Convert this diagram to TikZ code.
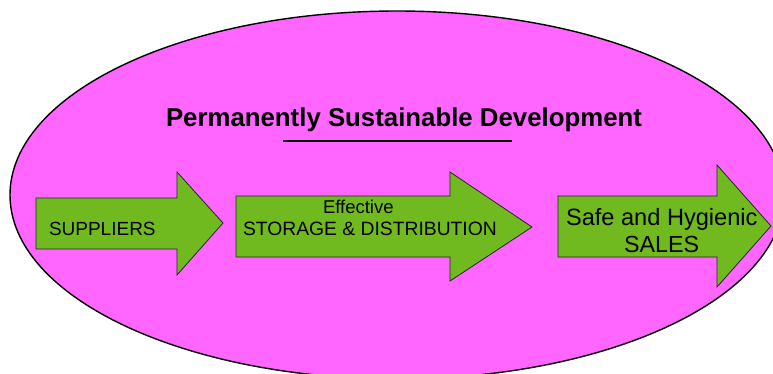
\documentclass[tikz,border=0pt]{standalone}
\usepackage{fontspec}
\setmainfont{Liberation Sans}
\definecolor{pinkfill}{RGB}{255,102,255}
\definecolor{greenfill}{RGB}{112,185,30}
\tikzset{
  bigarrow/.style={draw=black!85, line width=0.8pt, fill=greenfill, line join=miter},
  lbl/.style={anchor=base west, inner sep=0pt, outer sep=0pt, text=black},
}
\begin{document}
\begin{tikzpicture}[x=1pt,y=-1pt]
\useasboundingbox (0,0) rectangle (773,373);
\clip (0,0) rectangle (773,373);
\draw[fill=pinkfill, line width=1.4pt] (397,195) ellipse [x radius=387, y radius=184];
% title
\node[lbl, font=\fontsize{25.8}{30}\selectfont\bfseries] (title) at (166,126) {Permanently Sustainable Development};
\coordinate (ulA) at (283,141);
\coordinate (ulB) at (512,141);
\draw[line width=1.6pt] (ulA) -- (ulB);
% arrows
\draw[bigarrow] (36,198) -- (177,198) -- (177,172) -- (223,223) -- (177,275) -- (177,249) -- (36,249) -- cycle;
\draw[bigarrow] (236,196) -- (450,196) -- (450,172) -- (532,227) -- (450,281) -- (450,257) -- (236,257) -- cycle;
\draw[bigarrow] (558,196) -- (717,196) -- (717,165) -- (771,226) -- (717,287) -- (717,257) -- (558,257) -- cycle;
% labels
\node[lbl, font=\fontsize{19}{22}\selectfont] (sup) at (49,235) {SUPPLIERS};
\node[lbl, font=\fontsize{18.5}{22}\selectfont] (eff) at (323,213) {Effective};
\node[lbl, font=\fontsize{19.3}{22}\selectfont] (sto) at (243,235) {STORAGE \& DISTRIBUTION};
\node[lbl, font=\fontsize{23.6}{28}\selectfont] (safe) at (566,225) {Safe and Hygienic};
\node[lbl, font=\fontsize{23.3}{28}\selectfont] (sales) at (624,252) {SALES};
\end{tikzpicture}
\end{document}
